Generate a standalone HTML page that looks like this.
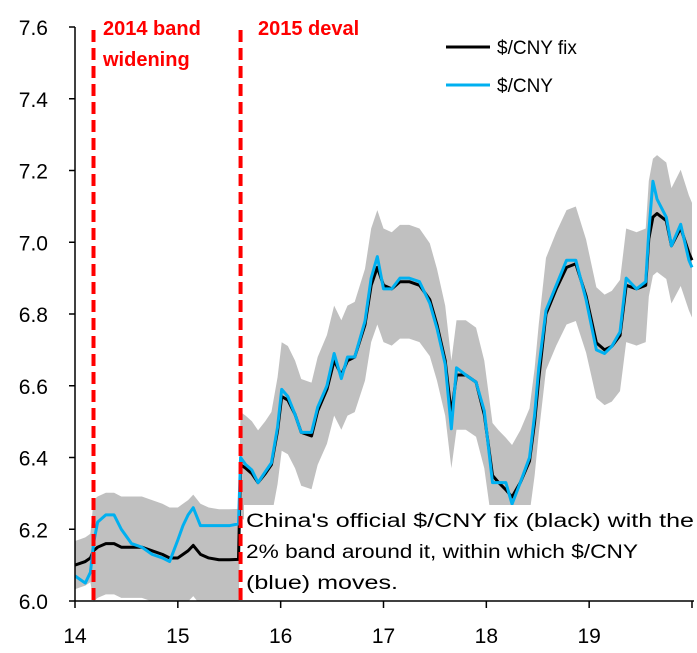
<!DOCTYPE html>
<html><head><meta charset="utf-8"><style>
body{margin:0;background:#fff;}
svg{display:block;font-family:"Liberation Sans",sans-serif;}
</style></head><body>
<svg id="chart" width="697" height="653" viewBox="0 0 697 653">
<g id="band"></g>
<g id="lines"></g>
<g id="axes"></g>
</svg>
<script>
const times=[2014.0,2014.05,2014.1,2014.15,2014.18,2014.22,2014.3,2014.38,2014.45,2014.55,2014.65,2014.75,2014.85,2014.92,2015.0,2015.05,2015.1,2015.15,2015.22,2015.3,2015.4,2015.5,2015.59,2015.61,2015.66,2015.72,2015.78,2015.85,2015.91,2015.97,2016.01,2016.07,2016.14,2016.2,2016.3,2016.36,2016.45,2016.52,2016.59,2016.65,2016.72,2016.82,2016.88,2016.94,2017.0,2017.08,2017.16,2017.25,2017.35,2017.45,2017.52,2017.6,2017.66,2017.71,2017.8,2017.9,2017.98,2018.06,2018.12,2018.19,2018.25,2018.33,2018.42,2018.47,2018.51,2018.58,2018.68,2018.78,2018.87,2018.97,2019.07,2019.15,2019.22,2019.3,2019.36,2019.46,2019.55,2019.58,2019.62,2019.66,2019.75,2019.8,2019.89,2019.97,2020.0];
const fixValues=[6.10,6.105,6.11,6.12,6.14,6.15,6.16,6.16,6.15,6.15,6.15,6.14,6.13,6.12,6.12,6.13,6.14,6.155,6.13,6.12,6.115,6.115,6.116,6.38,6.37,6.355,6.33,6.355,6.38,6.475,6.57,6.56,6.52,6.47,6.46,6.53,6.59,6.67,6.63,6.67,6.68,6.77,6.88,6.93,6.88,6.87,6.89,6.89,6.88,6.84,6.77,6.67,6.52,6.63,6.63,6.61,6.52,6.35,6.33,6.31,6.29,6.33,6.39,6.50,6.62,6.80,6.87,6.93,6.94,6.85,6.72,6.70,6.71,6.74,6.88,6.87,6.88,7.01,7.07,7.08,7.06,6.99,7.04,6.97,6.95];
const spotValues=[6.07,6.06,6.05,6.08,6.16,6.22,6.24,6.24,6.20,6.16,6.15,6.13,6.12,6.11,6.17,6.21,6.24,6.26,6.21,6.21,6.21,6.21,6.215,6.40,6.38,6.365,6.33,6.36,6.385,6.485,6.59,6.57,6.52,6.47,6.47,6.54,6.60,6.69,6.62,6.68,6.68,6.78,6.90,6.96,6.87,6.87,6.90,6.90,6.89,6.83,6.76,6.66,6.48,6.65,6.63,6.61,6.53,6.33,6.33,6.33,6.27,6.33,6.40,6.52,6.65,6.81,6.88,6.95,6.95,6.84,6.70,6.69,6.71,6.75,6.90,6.87,6.89,7.03,7.17,7.12,7.07,6.99,7.05,6.95,6.93];
const bandPct=times.map(t=>t<2014.18?0.011:0.023);
const yTicks=[6.0,6.2,6.4,6.6,6.8,7.0,7.2,7.4,7.6];
const xTicks=[2014,2015,2016,2017,2018,2019,2020];
const xTickLabels=["14","15","16","17","18","19",""];
const events=[2014.18,2015.61];

const X0=75,X1=692,Y0=601,Y1=27;
const xs=t=>X0+(t-2014)*(X1-X0)/6;
const ys=v=>Y0-(v-6.0)*(Y0-Y1)/1.6;
const NS="http://www.w3.org/2000/svg";
function mk(tag,attrs,parent){const e=document.createElementNS(NS,tag);for(const k in attrs)e.setAttribute(k,attrs[k]);parent.appendChild(e);return e;}
const svg=document.getElementById('chart');
const clip=mk('clipPath',{id:'pc'},svg);mk('rect',{x:X0,y:Y1,width:X1-X0+6,height:Y0-Y1},clip);

let up=times.map((t,i)=>xs(t)+','+ys(fixValues[i]*(1+bandPct[i])));
let lo=times.map((t,i)=>xs(t)+','+ys(fixValues[i]*(1-bandPct[i]))).reverse();
const band=mk('polygon',{points:up.concat(lo).join(' '),fill:'#c0c0c0','clip-path':'url(#pc)'},document.getElementById('band'));



const lines=document.getElementById('lines');
const fixLine=mk('polyline',{points:times.map((t,i)=>xs(t)+','+ys(fixValues[i])).join(' '),fill:'none',stroke:'#000','stroke-width':3,'stroke-linejoin':'round','clip-path':'url(#pc)'},lines);


const spotLine=mk('polyline',{points:times.map((t,i)=>xs(t)+','+ys(spotValues[i])).join(' '),fill:'none',stroke:'#00b0f0','stroke-width':3,'stroke-linejoin':'round','clip-path':'url(#pc)'},lines);



const ax=document.getElementById('axes');
events.forEach(t=>{const l=mk('line',{x1:xs(t),x2:xs(t),y1:30,y2:Y0,stroke:'#ff0000','stroke-width':4,'stroke-dasharray':'12 6'},ax);

});

mk('line',{x1:X0,x2:X0,y1:Y1,y2:Y0,stroke:'#000','stroke-width':1.5},ax);
mk('line',{x1:X0,x2:X1+2,y1:Y0,y2:Y0,stroke:'#000','stroke-width':1.5},ax);
yTicks.forEach(v=>{mk('line',{x1:X0-6,x2:X0,y1:ys(v),y2:ys(v),stroke:'#000','stroke-width':1.5},ax);
const tx=mk('text',{x:48,y:ys(v)+8,'text-anchor':'end','font-size':21,fill:'#000'},ax);tx.textContent=v.toFixed(1);

});
xTicks.forEach((t,i)=>{mk('line',{x1:xs(t),x2:xs(t),y1:Y0,y2:Y0+7,stroke:'#000','stroke-width':1.5},ax);
const tx=mk('text',{x:xs(t),y:643,'text-anchor':'middle','font-size':21,fill:'#000'},ax);tx.textContent=xTickLabels[i];

});
</script>
<svg style="position:absolute;left:0;top:0" width="697" height="653">
<g font-family="Liberation Sans, sans-serif" font-weight="bold" font-size="20" fill="#ff0000">
<text x="103" y="35">2014 band</text>
<text x="103" y="66">widening</text>
<text x="258" y="35">2015 deval</text>
</g>
<g font-family="Liberation Sans, sans-serif" font-size="19">
<line x1="446" x2="490" y1="47" y2="47" stroke="#000" stroke-width="3"/>
<text x="497" y="54">$/CNY fix</text>
<line x1="446" x2="490" y1="85" y2="85" stroke="#00b0f0" stroke-width="3"/>
<text x="497" y="92">$/CNY</text>
</g>
<rect x="244" y="505" width="453" height="30" fill="#fff"/>
<rect x="244" y="535" width="400" height="30" fill="#fff"/>
<rect x="244" y="565" width="160" height="34" fill="#fff"/>
<g font-family="Liberation Sans, sans-serif" font-size="19" fill="#000">
<text x="246" y="527" textLength="448" lengthAdjust="spacingAndGlyphs">China's official $/CNY fix (black) with the</text>
<text x="246" y="558" textLength="392" lengthAdjust="spacingAndGlyphs">2% band around it, within which $/CNY</text>
<text x="246" y="589" textLength="152" lengthAdjust="spacingAndGlyphs">(blue) moves.</text>
</g>
</svg>
</body></html>
